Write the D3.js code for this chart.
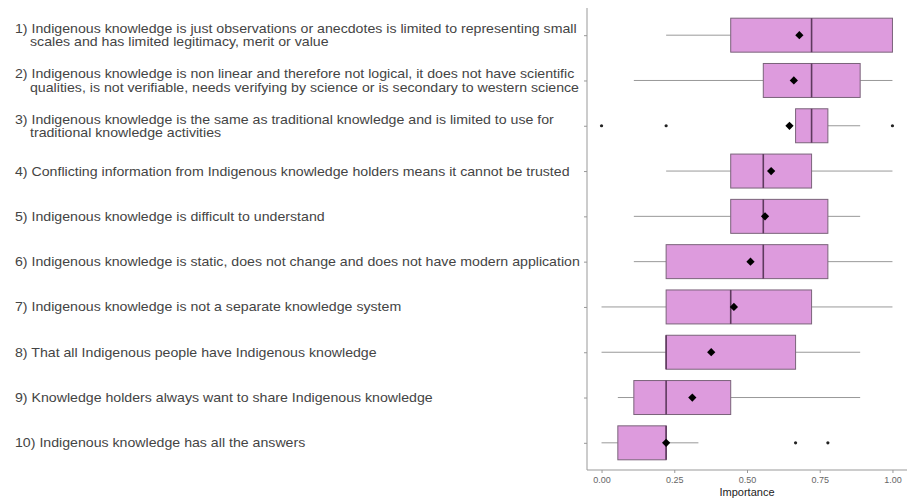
<!DOCTYPE html>
<html lang="en">
<head>
<meta charset="utf-8">
<title>Importance boxplot</title>
<script src="https://cdn.jsdelivr.net/npm/d3@7"></script>
<style>
  body { margin: 0; background: white; }
  svg { font-family: "Liberation Sans", Arial, sans-serif; }
  .ylab { font-size: 13px; fill: #444; }
  .axis text { font-size: 9px; fill: #666; }
  .axis path, .axis line { stroke: #999; }
</style>
</head>
<body>
<div id="chart"></div>
<script>
// statements (each label may have two lines)
var labels = [
  ["1) Indigenous knowledge is just observations or anecdotes is limited to representing small", "scales and has limited legitimacy, merit or value"],
  ["2) Indigenous knowledge is non linear and therefore not logical, it does not have scientific", "qualities, is not verifiable, needs verifying by science or is secondary to western science"],
  ["3) Indigenous knowledge is the same as traditional knowledge and is limited to use for", "traditional knowledge activities"],
  ["4) Conflicting information from Indigenous knowledge holders means it cannot be trusted"],
  ["5) Indigenous knowledge is difficult to understand"],
  ["6) Indigenous knowledge is static, does not change and does not have modern application"],
  ["7) Indigenous knowledge is not a separate knowledge system"],
  ["8) That all Indigenous people have Indigenous knowledge"],
  ["9) Knowledge holders always want to share Indigenous knowledge"],
  ["10) Indigenous knowledge has all the answers"]
];
var whiskLo = [0.222, 0.111, 0.667, 0.222, 0.111, 0.111, 0.000, 0.000, 0.056, 0.000];
var q1      = [0.444, 0.556, 0.667, 0.444, 0.444, 0.222, 0.222, 0.222, 0.111, 0.056];
var median  = [0.722, 0.722, 0.722, 0.556, 0.556, 0.556, 0.444, 0.222, 0.222, 0.222];
var q3      = [1.000, 0.889, 0.778, 0.722, 0.778, 0.778, 0.722, 0.667, 0.444, 0.222];
var whiskHi = [1.000, 1.000, 0.889, 1.000, 0.889, 1.000, 1.000, 0.889, 0.889, 0.333];
var means   = [0.680, 0.661, 0.646, 0.583, 0.562, 0.512, 0.455, 0.377, 0.312, 0.222];
var outliers = [[], [], [0.000, 0.222, 1.000], [], [], [], [], [], [], [0.667, 0.778]];
var xTicks = [0, 0.25, 0.5, 0.75, 1];

var W = 910, H = 500;
var panel = {left: 587, right: 907, top: 8, bottom: 470};

var svg = d3.select("#chart").append("svg")
  .attr("width", W).attr("height", H);

var idx = d3.range(labels.length);
var step = (panel.bottom - panel.top) / (labels.length - 1 + 1.2);
var y = d3.scalePoint()
  .domain(idx)
  .range([panel.top + 0.6 * step, panel.bottom - 0.6 * step]);
var span = (panel.right - panel.left) / 1.1;
var x = d3.scaleLinear()
  .domain([0, 1])
  .range([panel.left + 0.05 * span, panel.left + 1.05 * span]);
var boxH = step * 0.75;

// axes
var xAxis = d3.axisBottom(x).tickValues(xTicks).tickFormat(d3.format(".2f")).tickSize(3).tickPadding(4);
var gx = svg.append("g").attr("class", "axis")
  .attr("transform", "translate(0," + panel.bottom + ")")
  .call(xAxis);
gx.select(".domain").attr("d", "M" + panel.left + ",0H" + panel.right);

var yAxis = d3.axisLeft(y).tickSize(3).tickFormat("");
var gy = svg.append("g").attr("class", "axis")
  .attr("transform", "translate(" + panel.left + ",0)")
  .call(yAxis);
gy.select(".domain").attr("d", "M0," + panel.top + "V" + panel.bottom);

svg.append("text")
  .attr("x", x(0.5)).attr("y", 496)
  .attr("text-anchor", "middle")
  .style("font-size", "11px").style("fill", "#222")
  .text("Importance");

// y labels (text in the original is a bit wider than Arial, stretch it)
var sx = 1.09;
var labG = svg.append("g").attr("transform", "scale(" + sx + ",1)");
var lab = labG.selectAll(".ylab").data(idx).enter().append("text")
  .attr("class", "ylab")
  .attr("y", function(d) { return y(d) - (labels[d].length - 1) * 6.7 + 4.5; });
lab.selectAll("tspan").data(function(d) { return labels[d]; }).enter().append("tspan")
  .attr("x", function(t, i) { return (i === 0 ? 15 : 30) / sx; })
  .attr("dy", function(t, i) { return i === 0 ? 0 : 13.4; })
  .text(function(t) { return t; });

// boxplots
var g = svg.selectAll(".box").data(idx).enter().append("g").attr("class", "box");

g.append("line")
  .attr("x1", function(d) { return x(whiskLo[d]); })
  .attr("x2", function(d) { return x(q1[d]); })
  .attr("y1", function(d) { return y(d); }).attr("y2", function(d) { return y(d); })
  .attr("stroke", "#999").attr("stroke-width", 1);
g.append("line")
  .attr("x1", function(d) { return x(q3[d]); })
  .attr("x2", function(d) { return x(whiskHi[d]); })
  .attr("y1", function(d) { return y(d); }).attr("y2", function(d) { return y(d); })
  .attr("stroke", "#999").attr("stroke-width", 1);

g.append("rect")
  .attr("x", function(d) { return x(q1[d]); })
  .attr("width", function(d) { return x(q3[d]) - x(q1[d]); })
  .attr("y", function(d) { return y(d) - boxH / 2; })
  .attr("height", boxH)
  .attr("fill", "#dd9bdd")
  .attr("stroke", "#7a637a").attr("stroke-width", 1);

g.append("line")
  .attr("x1", function(d) { return x(median[d]); })
  .attr("x2", function(d) { return x(median[d]); })
  .attr("y1", function(d) { return y(d) - boxH / 2; })
  .attr("y2", function(d) { return y(d) + boxH / 2; })
  .attr("stroke", "#5e3a5e").attr("stroke-width", 1.6);

g.selectAll(".out").data(function(d) { return outliers[d].map(function(v) { return {v: v, r: d}; }); })
  .enter().append("circle")
  .attr("cx", function(o) { return x(o.v); })
  .attr("cy", function(o) { return y(o.r); })
  .attr("r", 1.6).attr("fill", "#222");

g.append("path")
  .attr("d", d3.symbol().type(d3.symbolSquare).size(34))
  .attr("transform", function(d) { return "translate(" + x(means[d]) + "," + y(d) + ") rotate(45)"; })
  .attr("fill", "#000");
</script>
</body>
</html>
